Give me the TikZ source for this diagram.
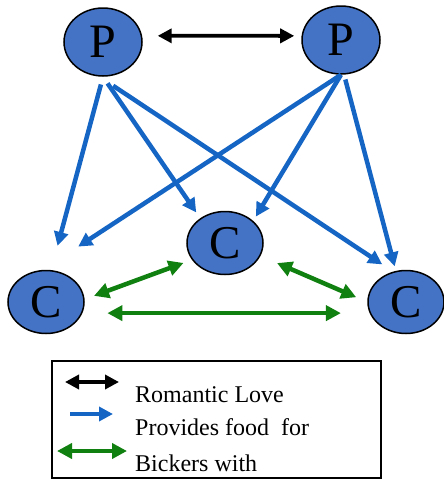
\documentclass[tikz,border=0pt]{standalone}
\usepackage{fontspec}
\setmainfont{Liberation Serif}
\usetikzlibrary{shapes.geometric,arrows.meta}
\definecolor{nodeblue}{RGB}{68,114,196}
\definecolor{feedblue}{RGB}{21,102,196}
\definecolor{bickgreen}{RGB}{16,128,16}

\tikzset{
  pnode/.style={ellipse, draw, line width=1.5pt, fill=nodeblue, minimum width=78pt, minimum height=68pt, inner sep=0pt, font=\fontsize{48}{48}\selectfont},
  cnode/.style={ellipse, draw, line width=1.5pt, fill=nodeblue, minimum width=76pt, minimum height=63pt, inner sep=0pt, font=\fontsize{47}{47}\selectfont},
  love/.style={{Triangle[length=14pt,width=14pt]}-{Triangle[length=14pt,width=14pt]}, line width=3.8pt, black},
  feed/.style={-{Triangle[length=14pt,width=14pt]}, line width=4.5pt, feedblue},
  bicker/.style={{Triangle[length=15pt,width=15pt]}-{Triangle[length=15pt,width=15pt]}, line width=4.5pt, bickgreen},
  legtext/.style={anchor=base west, inner sep=0pt, font=\fontsize{24}{24}\selectfont}
}

\begin{document}
\begin{tikzpicture}[x=1pt,y=-1pt]
        \useasboundingbox (0,0) rectangle (444,480);

                % Nodes
                \node[pnode] (p1) at (103,42) {P};
                \node[pnode] (p2) at (341,40) {P};
                \node[cnode] (cc) at (225,243) {C};
                \node[cnode] (cl) at (46,302) {C};
                \node[cnode] (cr) at (406,302) {C};

                % Edges
                \draw[love, shorten <=15.6pt, shorten >=7.3pt] (p1.9) -- (p2.174);
                \draw[feed, shorten <=8pt, shorten >=25pt] (p1.south) -- (cl.81);
                \draw[feed, shorten <=8pt, shorten >=7pt] (p1.south) -- (cc.135);
                \draw[feed, shorten <=16.5pt, shorten >=13pt] (p1.-96) -- (cr.113);
                \draw[feed, shorten >=42.5pt] (p2.south) -- (cl.96);
                \draw[feed, shorten >=5pt] (p2.south) -- (cc.38);
                \draw[feed, shorten <=5pt, shorten >=4.7pt] (p2.-85) -- (cr.108);
                \draw[bicker, shorten <=10pt, shorten >=9pt] (cl.4) -- (cc.-153);
                \draw[bicker, shorten <=18pt, shorten >=12pt] (cc.-20) -- (cr.180);
                \draw[bicker, shorten <=25pt, shorten >=28.7pt] (cl.-17) -- (cr.-163);

                % Legend
                \node[draw, line width=1.5pt, minimum width=329pt, minimum height=117pt, inner sep=0pt] (legend) at (216.5,419.5) {};
                \coordinate (lv1) at (65,382);
                \coordinate (lv2) at (119,382);
                \coordinate (lf1) at (70,414);
                \coordinate (lf2) at (113,414);
                \coordinate (lb1) at (57,451);
                \coordinate (lb2) at (127,451);
                \draw[love] (lv1) -- (lv2);
                \draw[feed] (lf1) -- (lf2);
                \draw[bicker] (lb1) -- (lb2);
                \node[legtext] (tlove) at (135,402) {Romantic Love};
                \node[legtext] (tfeed) at (135,435) {Provides food~~for};
                \node[legtext] (tbick) at (135,471) {Bickers with};

\end{tikzpicture}
\end{document}
